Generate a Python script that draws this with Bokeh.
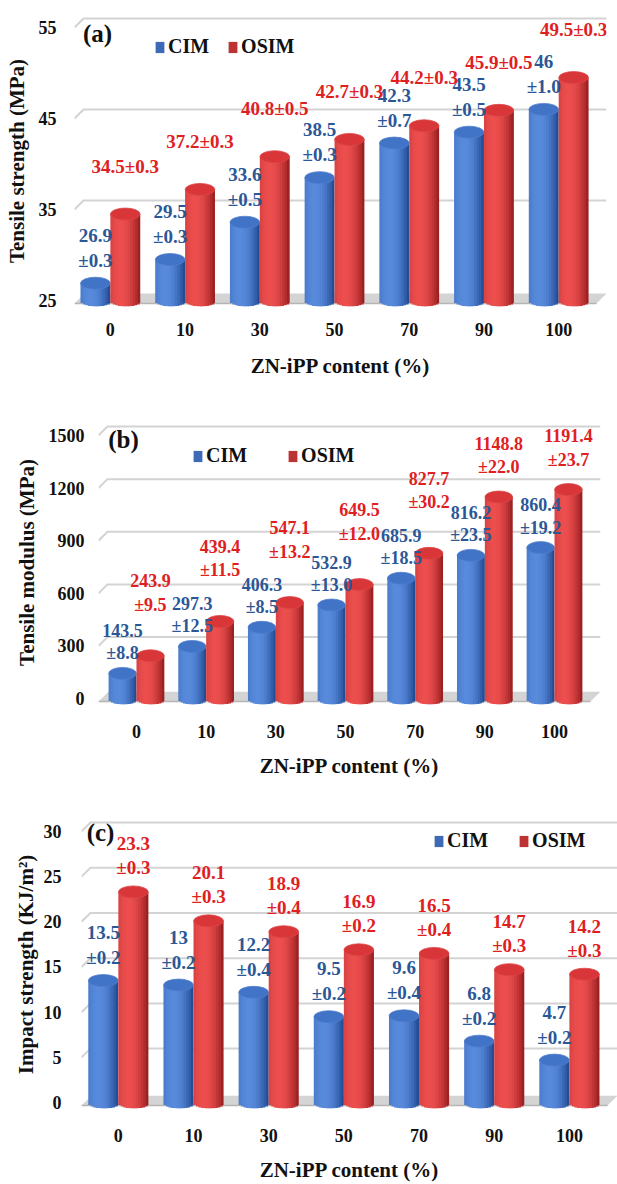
import numpy as np
from bokeh.plotting import figure
from bokeh.models import FixedTicker, Range1d, Legend, LegendItem, Label
from bokeh.embed import file_html
from bokeh.resources import INLINE
from bokeh.core.properties import value

# ---------------- data ----------------
categories = ["0", "10", "30", "50", "70", "90", "100"]

ts_cim = [26.9, 29.5, 33.6, 38.5, 42.3, 43.5, 46.0]
ts_cim_err = [0.3, 0.3, 0.5, 0.3, 0.7, 0.5, 1.0]
ts_osim = [34.5, 37.2, 40.8, 42.7, 44.2, 45.9, 49.5]
ts_osim_err = [0.3, 0.3, 0.5, 0.3, 0.3, 0.5, 0.3]

tm_cim = [143.5, 297.3, 406.3, 532.9, 685.9, 816.2, 860.4]
tm_cim_err = [8.8, 12.5, 8.5, 13.0, 18.5, 23.5, 19.2]
tm_osim = [243.9, 439.4, 547.1, 649.5, 827.7, 1148.8, 1191.4]
tm_osim_err = [9.5, 11.5, 13.2, 12.0, 30.2, 22.0, 23.7]

is_cim = [13.5, 13.0, 12.2, 9.5, 9.6, 6.8, 4.7]
is_cim_err = [0.2, 0.2, 0.4, 0.2, 0.4, 0.2, 0.2]
is_osim = [23.3, 20.1, 18.9, 16.9, 16.5, 14.7, 14.2]
is_osim_err = [0.3, 0.3, 0.4, 0.2, 0.4, 0.3, 0.3]

ts_ticks = [25, 35, 45, 55]
tm_ticks = [0, 300, 600, 900, 1200, 1500]
is_ticks = [0, 5, 10, 15, 20, 25, 30]

# ---------------- style ----------------
FONT = "Liberation Serif"
BLUE_DARK, BLUE_LIGHT, BLUE_TOP = (20, 58, 128), (88, 138, 220), "#4173c6"
RED_DARK, RED_LIGHT, RED_TOP = (132, 18, 20), (236, 78, 78), "#d9363a"
BLUE_TXT = "#2b5797"
RED_TXT = "#e0201e"
W = 0.40          # bar width (category units)
NSTRIP = 12
ELL = 12          # ellipse height px
DEPTH = 9         # perspective offset of back wall, px


def mix(c0, c1, f):
    return "#%02x%02x%02x" % tuple(int(round(a + (b - a) * f)) for a, b in zip(c0, c1))


def shade(t):
    return max(0.0, 1.0 - ((t - 0.33) / 0.72) ** 2)


def fmt(v):
    return f"{v:g}"


def cylinders(p, xs, tops, base, dark, light, topc, ppu):
    half = ELL / 2.0 / ppu
    for k in range(NSTRIP):
        t = (k + 0.5) / NSTRIP
        col = mix(dark, light, shade(t))
        bot = base - half * np.sqrt(max(0.0, 1 - (2 * t - 1) ** 2))
        wk = W / NSTRIP * (1.0 if k == NSTRIP - 1 else 1.7)
        xk = [x - W / 2 + (k / NSTRIP) * W + wk / 2 for x in xs]
        p.vbar(x=xk, width=wk, top=tops, bottom=bot, fill_color=col, line_color=None)
    p.ellipse(x=xs, y=tops, width=W * 0.99, height=ELL, height_units="screen",
              fill_color=topc, line_color=mix(dark, light, 0.85), line_width=0.8)


def panel(height, top_b, bot_b, left_b, right_b, xr, yr, base, ticks, ytitle,
          letter, cim, cim_err, osim, osim_err, leg_loc, leg_spacing, letter_loc,
          y_stand, y_title_stand, x_stand, x_title_stand,
          cim_off, osim_off, lab_size="19px", osim_one_line=False, cap_px=None, cap_off=None):
    p = figure(width=617, height=height, output_backend="svg", toolbar_location=None,
               x_range=Range1d(*xr), y_range=Range1d(*yr),
               min_border_top=top_b, min_border_bottom=bot_b,
               min_border_left=left_b, min_border_right=right_b)
    p.outline_line_color = None
    p.xgrid.visible = False
    p.ygrid.visible = False

    frame_h = height - top_b - bot_b
    ppu = frame_h / (yr[1] - yr[0])
    frame_w = 617 - left_b - right_b
    ppx = frame_w / (xr[1] - xr[0])

    # back-wall gridlines with a short perspective segment at the left
    dy = DEPTH / ppu
    dx = DEPTH / ppx
    gx, gy = [], []
    for t in ticks:
        if t == base:
            continue
        gx.append([xr[0], xr[0] + dx, xr[1]])
        gy.append([t, t + dy, t + dy])
    p.multi_line(xs=gx, ys=gy, line_color="#d3d3d3", line_width=2)

    # floor
    d_up = 7 / ppu
    d_dn = 3 / ppu
    sk = 10 / ppx
    p.patch(x=[xr[0], xr[1] - sk, xr[1], xr[0] + sk],
            y=[base - d_dn, base - d_dn, base + d_up, base + d_up],
            fill_color="#d4d4d4", line_color=None)
    p.line(x=[xr[0], xr[1] - sk], y=[base - d_dn, base - d_dn], line_color="#b5b5b5", line_width=1.5)

    idx = np.arange(len(categories))
    xc = list(idx - W / 2)
    xo = list(idx + W / 2)
    cylinders(p, xc, cim, base, BLUE_DARK, BLUE_LIGHT, BLUE_TOP, ppu)
    cylinders(p, xo, osim, base, RED_DARK, RED_LIGHT, RED_TOP, ppu)

    tk = dict(text_align="center", text_baseline="middle", text_font=value(FONT),
              text_font_style="bold", text_font_size=lab_size)
    p.text(x=xc, y=cim, text=[fmt(v) for v in cim], y_offset=cim_off[0], text_color=BLUE_TXT, **tk)
    p.text(x=xc, y=cim, text=["±" + f"{e:.1f}" for e in cim_err], y_offset=cim_off[1], text_color=BLUE_TXT, **tk)
    if osim_one_line:
        p.text(x=xo, y=osim, text=[fmt(v) + "±" + f"{e:.1f}" for v, e in zip(osim, osim_err)],
               y_offset=osim_off[0], text_color=RED_TXT, **tk)
    else:
        top_px = [top_b + (yr[1] - v) * ppu for v in osim]
        normal = [i for i, tp in enumerate(top_px) if cap_px is None or tp + osim_off[0] >= cap_px]
        capped = [i for i in range(len(osim)) if i not in normal]
        for grp, off in ((normal, osim_off), (capped, cap_off)):
            if not grp:
                continue
            p.text(x=[xo[i] for i in grp], y=[osim[i] for i in grp],
                   text=[fmt(osim[i]) for i in grp], y_offset=off[0], text_color=RED_TXT, **tk)
            p.text(x=[xo[i] for i in grp], y=[osim[i] for i in grp],
                   text=["±" + f"{osim_err[i]:.1f}" for i in grp], y_offset=off[1], text_color=RED_TXT, **tk)

    p.xaxis.ticker = FixedTicker(ticks=list(idx))
    p.xaxis.major_label_overrides = {int(i): c for i, c in zip(idx, categories)}
    p.xaxis.axis_label = "ZN-iPP content (%)"
    p.yaxis.ticker = FixedTicker(ticks=ticks)
    p.yaxis.axis_label = ytitle
    for ax in (p.xaxis[0], p.yaxis[0]):
        ax.axis_line_color = None
        ax.major_tick_line_color = None
        ax.minor_tick_line_color = None
        ax.major_tick_out = 0
        ax.major_tick_in = 0
        ax.minor_tick_out = 0
        ax.major_label_text_font = FONT
        ax.major_label_text_font_style = "bold"
        ax.major_label_text_font_size = "18px"
        ax.major_label_text_color = "#111111"
        ax.axis_label_text_font = FONT
        ax.axis_label_text_font_style = "bold"
        ax.axis_label_text_font_size = "21px"
        ax.axis_label_text_color = "#111111"
    p.yaxis.major_label_standoff = y_stand
    p.yaxis.axis_label_standoff = y_title_stand
    p.xaxis.major_label_standoff = x_stand
    p.xaxis.axis_label_standoff = x_title_stand

    # legend (zero-size proxy renderers, invisible in the plot)
    r1 = p.vbar(x=[xr[0]], top=[yr[0]], bottom=[yr[0]], width=0,
                fill_color=mix(BLUE_DARK, BLUE_LIGHT, 0.6), line_color=None)
    r2 = p.vbar(x=[xr[0]], top=[yr[0]], bottom=[yr[0]], width=0,
                fill_color=mix(RED_DARK, RED_LIGHT, 0.55), line_color=None)
    leg = Legend(items=[LegendItem(label="CIM", renderers=[r1]), LegendItem(label="OSIM", renderers=[r2])],
                 location=leg_loc, orientation="horizontal", border_line_color=None,
                 background_fill_alpha=0, label_text_font=FONT, label_text_font_style="bold",
                 label_text_font_size="20px", label_text_color="#111111",
                 glyph_width=11, glyph_height=14, label_standoff=3,
                 spacing=leg_spacing, padding=0, margin=0, label_height=20)
    p.add_layout(leg)

    p.add_layout(Label(x=letter_loc[0], y=letter_loc[1], x_units="screen", y_units="screen",
                       text=letter, text_font=FONT, text_font_style="bold", text_font_size="25px",
                       text_align="center", text_baseline="middle", text_color="#111111"))
    return p


pa = panel(380, 15, 74, 74, 11, (-0.48, 6.64), (24.34, 56.32), 25, ts_ticks,
           "Tensile strength (MPa)", "(a)", ts_cim, ts_cim_err, ts_osim, ts_osim_err,
           (80, 248), 18, (23, 273), 18, 7, 16, 15, (-48, -23), (-48,), osim_one_line=True)

pb = panel(400, 40, 73, 98, 17, (-0.545, 6.66), (-33.8, 1585), 0, tm_ticks,
           "Tensile modulus (MPa)", "(b)", tm_cim, tm_cim_err, tm_osim, tm_osim_err,
           (94, 237), 40, (25, 265), 14, 7, 20, 13, (-43, -20), (-75, -51), lab_size="18px",
           cap_px=55, cap_off=(-54, -30))

pc = panel(404, 40, 70, 81, 0, (-0.49, 6.64), (-0.65, 31.2), 0, is_ticks,
           "Impact strength (KJ/m²)", "(c)", is_cim, is_cim_err, is_osim, is_osim_err,
           (352, 256), 30, (19, 276), 20, 3, 20, 13, (-48, -23), (-48, -24))

open("out.html", "w").write(file_html([pa, pb, pc], INLINE))
